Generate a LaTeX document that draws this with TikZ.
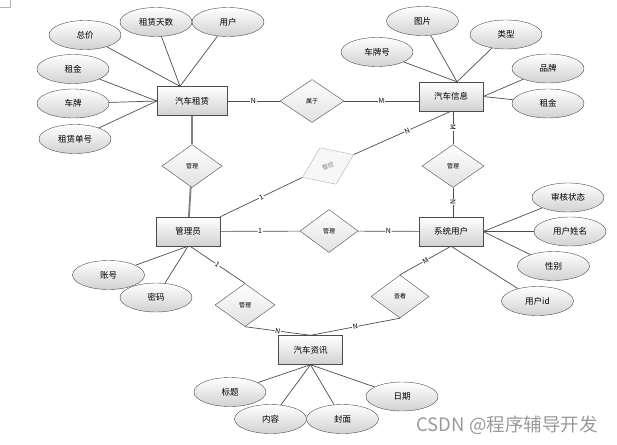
\documentclass[tikz,border=0pt]{standalone}
\usepackage{fontspec}
\setmainfont{Noto Sans CJK SC}
\usetikzlibrary{shapes.geometric}
\tikzset{entity/.style={draw=black!70, top color=white, bottom color=black!18, minimum width=64, minimum height=29, inner sep=0pt, font=\fontsize{8.5}{9}\selectfont},
attr/.style={ellipse, draw=black!70, top color=white, bottom color=black!18, minimum width=72, minimum height=29, inner sep=0pt, font=\fontsize{8.5}{9}\selectfont},
rel/.style={diamond, draw=black!70, top color=white, bottom color=black!12, minimum width=60, minimum height=43, inner sep=0pt, font=\fontsize{6}{6}\selectfont},
conn/.style={draw=black!70, line width=0.7pt},
lbl/.style={fill=white, inner sep=0.6pt, font=\fontsize{7}{7}\selectfont, sloped}}

\begin{document}
\begin{tikzpicture}[x=1pt, y=-1pt]
        \useasboundingbox (0,0) rectangle (617,444);
        \draw[black!30] (0,7) -- (10,7) -- (10,0);
        % entities
        \node[entity, minimum width=70] (rent) at (192,101) {汽车租赁};
        \node[entity] (car) at (451,96.5) {汽车信息};
        \node[entity] (admin) at (188,231.5) {管理员};
        \node[entity] (user) at (451,231.5) {系统用户};
        \node[entity] (news) at (310.5,350) {汽车资讯};
        % relations
        \node[rel, minimum width=64] (belong) at (312,101) {属于};
        \node[rel] (m1) at (192,166) {管理};
        \node[rel, minimum width=62] (m2) at (453,166) {管理};
        \node[rel, minimum width=58] (m3) at (329,231) {管理};
        \node[rel] (m4) at (245,305) {管理};
        \node[rel, minimum width=58] (look) at (400,296.5) {查看};
        \node[diamond, draw=black!30, fill=black!3, text=black!50, minimum width=56, minimum height=40, inner sep=0pt, rotate=24, font=\fontsize{6}{6}\selectfont] (ctrl) at (328,166) {管控};
        % attributes
        \coordinate (rent-t) at ([xshift=-12]rent.north);
        \coordinate (car-t) at ([xshift=6]car.north);
        \foreach \t/\x/\y [count=\i] in {总价/85/35, 租赁天数/156/22, 用户/228/22}{
          \node[attr] (ra\i) at (\x,\y) {\t};
          \draw[conn] (ra\i) -- (rent-t);
        }
        \foreach \t/\x/\y [count=\i] in {租金/73/69, 车牌/73/103.5, 租赁单号/75/139}{
          \node[attr] (rb\i) at (\x,\y) {\t};
          \draw[conn] (rb\i) -- (rent.west);
        }
        \foreach \t/\x/\y [count=\i] in {车牌号/377/52, 图片/422.5/21, 类型/506/34.5}{
          \node[attr] (ca\i) at (\x,\y) {\t};
          \draw[conn] (ca\i) -- (car-t);
        }
        \foreach \t/\x/\y [count=\i] in {品牌/548/68.5, 租金/548/103.5}{
          \node[attr] (cb\i) at (\x,\y) {\t};
          \draw[conn] (cb\i) -- (car.east);
        }
        \foreach \t/\x/\y [count=\i] in {审核状态/568/197.5, 用户姓名/570/231.5, 性别/553.5/266}{
          \node[attr] (ua\i) at (\x,\y) {\t};
          \draw[conn] (ua\i) -- (user.east);
        }
        \node[attr] (ua4) at (537.5,301) {用户id};
        \draw[conn] (ua4) -- (user.south);
        \foreach \t/\x/\y [count=\i] in {账号/108.5/275, 密码/156/297.5}{
          \node[attr] (aa\i) at (\x,\y) {\t};
          \draw[conn] (aa\i) -- (admin.south);
        }
        \foreach \t/\x/\y [count=\i] in {标题/230/392, 内容/270.5/419, 封面/342.5/419, 日期/402/396.5}{
          \node[attr] (na\i) at (\x,\y) {\t};
          \draw[conn] (na\i) -- (news.south);
        }
        % connectors
        \draw[conn] (rent) -- node[lbl]{N} (belong);
        \draw[conn] (belong.east) -- node[lbl]{M} (belong.east -| car.west);
        \draw[black!50, line width=1.8pt] (rent) edge (m1) (m1) edge (admin);
        \draw[conn] (admin.north east) -- node[lbl]{1} (ctrl.west);
        \draw[conn] (ctrl.east) -- node[lbl, pos=0.55]{N} (car.south);
        \draw[conn] ([xshift=2]car.south) -- node[lbl]{M} (m2);
        \draw[conn] (m2) -- node[lbl]{N} ([xshift=2]user.north);
        \draw[conn] (admin) -- node[lbl]{1} (m3);
        \draw[conn] (m3) -- node[lbl]{N} (user);
        \draw[conn] ([xshift=2]admin.south) -- node[lbl]{1} (m4.north);
        \draw[conn] (m4.south) -- node[lbl]{N} (news.north);
        \draw[conn] (user.south) -- node[lbl]{M} (look.north);
        \draw[conn] (look.south) -- node[lbl]{N} (news.north);
        \node[text=black!40, font=\fontsize{18.5}{19}\selectfont] (mark) at (507,425.5) {CSDN @程序辅导开发};
      \end{tikzpicture}
\end{document}
